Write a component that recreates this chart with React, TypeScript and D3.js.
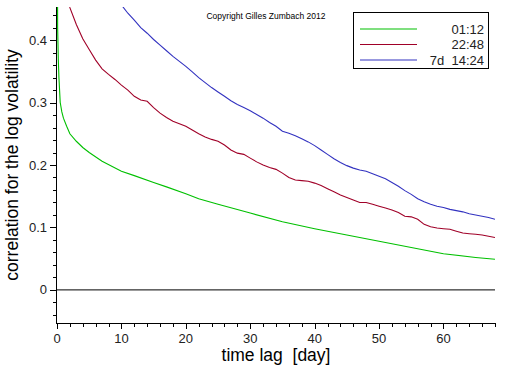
import * as d3 from "d3";

// Lags (days) and correlation values
const greenLags = [0.05, 0.1, 0.2, 0.3, 0.5, 0.75, 1, 1.5, 2, 3, 4, 5, 7, 10, 12, 15, 17, 20, 22, 25, 30, 35, 40, 45, 50, 55, 60, 65, 68];
const greenValues = [0.6, 0.42, 0.37, 0.34, 0.3, 0.285, 0.275, 0.262, 0.25, 0.238, 0.228, 0.22, 0.206, 0.19, 0.183, 0.172, 0.165, 0.154, 0.146, 0.137, 0.123, 0.109, 0.098, 0.088, 0.078, 0.068, 0.058, 0.052, 0.049];

const redLags = [1.9, 2, 3, 4, 5, 6, 7, 8, 9, 10, 11, 12, 13, 14, 15, 16, 17, 18, 19, 20, 21, 22, 23, 24, 25, 26, 27, 28, 29, 30, 31, 32, 33, 34, 35, 36, 37, 38, 39, 40, 41, 42, 43, 44, 45, 46, 47, 48, 49, 50, 51, 52, 53, 54, 55, 56, 57, 58, 59, 60, 61, 62, 63, 64, 65, 66, 67, 68];
const redValues = [0.46, 0.452, 0.425, 0.402, 0.385, 0.368, 0.354, 0.345, 0.337, 0.328, 0.32, 0.31, 0.304, 0.302, 0.292, 0.283, 0.276, 0.27, 0.266, 0.262, 0.256, 0.25, 0.245, 0.241, 0.238, 0.232, 0.224, 0.219, 0.217, 0.211, 0.205, 0.2, 0.196, 0.193, 0.187, 0.18, 0.176, 0.175, 0.174, 0.171, 0.167, 0.162, 0.157, 0.152, 0.148, 0.144, 0.14, 0.14, 0.137, 0.134, 0.131, 0.128, 0.124, 0.118, 0.117, 0.113, 0.105, 0.101, 0.099, 0.098, 0.097, 0.094, 0.091, 0.09, 0.089, 0.088, 0.086, 0.084];

const blueLags = [10.1, 11, 12, 13, 14, 15, 16, 17, 18, 19, 20, 21, 22, 23, 24, 25, 26, 27, 28, 29, 30, 31, 32, 33, 34, 35, 36, 37, 38, 39, 40, 41, 42, 43, 44, 45, 46, 47, 48, 49, 50, 51, 52, 53, 54, 55, 56, 57, 58, 59, 60, 61, 62, 63, 64, 65, 66, 67, 68];
const blueValues = [0.455, 0.443, 0.432, 0.42, 0.411, 0.401, 0.392, 0.383, 0.374, 0.366, 0.358, 0.349, 0.34, 0.332, 0.324, 0.317, 0.31, 0.303, 0.297, 0.292, 0.287, 0.281, 0.275, 0.268, 0.262, 0.254, 0.251, 0.247, 0.242, 0.237, 0.231, 0.224, 0.217, 0.21, 0.204, 0.199, 0.195, 0.192, 0.19, 0.186, 0.182, 0.178, 0.172, 0.166, 0.159, 0.153, 0.146, 0.141, 0.137, 0.134, 0.132, 0.129, 0.127, 0.125, 0.122, 0.12, 0.118, 0.116, 0.113];

const seriesLabels = ["01:12", "22:48", "7d  14:24"];
const seriesColors = ["#00c000", "#a00028", "#3232c0"];

const xMajorTicks = [0, 10, 20, 30, 40, 50, 60];
const yMajorTicks = [0, 0.1, 0.2, 0.3, 0.4];

const W = 512;
const H = 366;
const PLOT = { left: 57, right: 495, top: 7, bottom: 323 };
const FONT = "'Liberation Sans', Arial, sans-serif";

export default function App() {
  const x = d3.scaleLinear().domain([0, 68]).range([PLOT.left, PLOT.right]);
  const y = d3.scaleLinear().domain([-0.053, 0.453]).range([PLOT.bottom, PLOT.top]);

  const xMinor = d3.range(0, 68.01, 2);
  const yMinor = d3.range(-0.04, 0.4401, 0.02);

  const series = [
    { lags: greenLags, values: greenValues },
    { lags: redLags, values: redValues },
    { lags: blueLags, values: blueValues },
  ];

  const line = d3
    .line<[number, number]>()
    .x((d) => x(d[0]))
    .y((d) => y(d[1]));

  return (
    <div style={{ position: "absolute", left: 0, top: 0 }}>
      <svg width={W} height={H} style={{ display: "block", background: "#fff" }}>
        <defs>
          <clipPath id="plot-clip">
            <rect x={PLOT.left} y={PLOT.top} width={PLOT.right - PLOT.left} height={PLOT.bottom - PLOT.top} />
          </clipPath>
        </defs>

        {/* zero line */}
        <line x1={PLOT.left} x2={PLOT.right} y1={y(0)} y2={y(0)} stroke="#000" strokeWidth={1} />

        {/* curves */}
        <g clipPath="url(#plot-clip)">
          {series.map((s, i) => (
            <path
              key={i}
              d={line(s.lags.map((l, j) => [l, s.values[j]] as [number, number])) ?? ""}
              fill="none"
              stroke={seriesColors[i]}
              strokeWidth={1.1}
            />
          ))}
        </g>

        {/* y axis */}
        <line x1={PLOT.left - 0.5} x2={PLOT.left - 0.5} y1={PLOT.top} y2={PLOT.bottom} stroke="#000" />
        {yMinor.map((t) => (
          <line key={"ym" + t} x1={PLOT.left - 4} x2={PLOT.left} y1={Math.round(y(t)) + 0.5} y2={Math.round(y(t)) + 0.5} stroke="#000" />
        ))}
        {yMajorTicks.map((t) => (
          <g key={"yM" + t}>
            <line x1={PLOT.left - 7} x2={PLOT.left} y1={Math.round(y(t)) + 0.5} y2={Math.round(y(t)) + 0.5} stroke="#000" />
            <text x={PLOT.left - 10} y={y(t)} dy="0.35em" textAnchor="end" fontFamily={FONT} fontSize={13} fill="#222">
              {t === 0 ? "0" : d3.format(".1f")(t)}
            </text>
          </g>
        ))}

        {/* x axis */}
        <line x1={PLOT.left - 1} x2={PLOT.right + 0.5} y1={PLOT.bottom + 0.5} y2={PLOT.bottom + 0.5} stroke="#000" />
        {xMinor.map((t) => (
          <line key={"xm" + t} x1={Math.round(x(t)) + 0.5} x2={Math.round(x(t)) + 0.5} y1={PLOT.bottom} y2={PLOT.bottom + 4} stroke="#000" />
        ))}
        {xMajorTicks.map((t) => (
          <g key={"xM" + t}>
            <line x1={Math.round(x(t)) + 0.5} x2={Math.round(x(t)) + 0.5} y1={PLOT.bottom} y2={PLOT.bottom + 6} stroke="#000" />
            <text x={x(t)} y={PLOT.bottom + 20} textAnchor="middle" fontFamily={FONT} fontSize={13} fill="#222">
              {t}
            </text>
          </g>
        ))}

        {/* axis titles */}
        <text x={276} y={361} textAnchor="middle" fontFamily={FONT} fontSize={17.5} fill="#000" style={{ whiteSpace: "pre" }}>
          {"time lag  [day]"}
        </text>
        <text
          transform={`translate(18,${165}) rotate(-90)`}
          textAnchor="middle"
          fontFamily={FONT}
          fontSize={17.5}
          fill="#000"
        >
          correlation for the log volatility
        </text>

        {/* copyright */}
        <text x={266} y={19} textAnchor="middle" fontFamily={FONT} fontSize={8.5} fill="#000">
          Copyright Gilles Zumbach 2012
        </text>

        {/* legend */}
        <rect x={353.5} y={12.5} width={135} height={56} fill="#fff" stroke="#000" />
        {seriesLabels.map((lab, i) => {
          const ly = 29 + i * 15.5;
          return (
            <g key={lab}>
              <line x1={360} x2={417} y1={ly} y2={ly} stroke={seriesColors[i]} strokeWidth={1.1} />
              <text x={484} y={ly} dy="0.36em" textAnchor="end" fontFamily={FONT} fontSize={13} fill="#222" style={{ whiteSpace: "pre" }}>
                {lab}
              </text>
            </g>
          );
        })}
      </svg>
    </div>
  );
}
